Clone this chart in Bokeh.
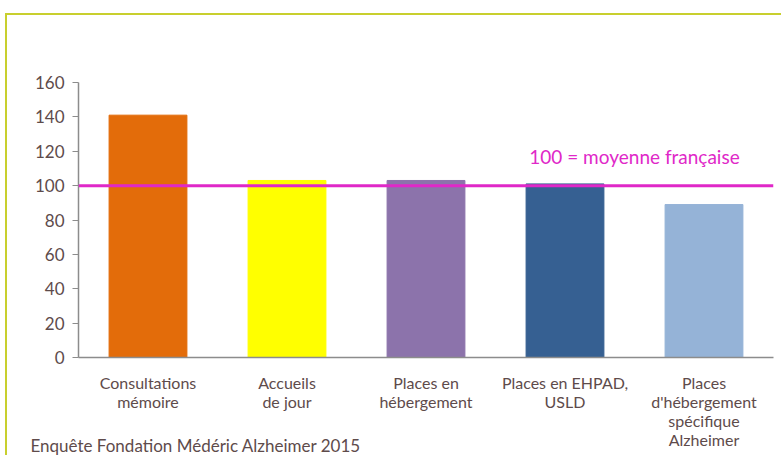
from bokeh.plotting import figure
from bokeh.models import Span, Label, FixedTicker, Range1d
from bokeh.embed import file_html
from bokeh.resources import INLINE

categories = ["Consultations\nmémoire", "Accueils\nde jour", "Places en\nhébergement",
              "Places en EHPAD,\nUSLD", "Places\nd'hébergement\nspécifique\nAlzheimer"]
values = [141, 103, 103, 101, 89]
colors = ["#e36c0a", "#ffff00", "#8c73ab", "#366092", "#95b3d7"]
y_ticks = [0, 20, 40, 60, 80, 100, 120, 140, 160]
reference = 100
reference_label = "100 = moyenne française"
source_note = "Enquête Fondation Médéric Alzheimer 2015"

TXT = "#5e4b4b"
FONT = "Lato"

p = figure(width=776, height=442, output_backend="svg", toolbar_location=None,
           x_range=Range1d(0, len(categories)), y_range=Range1d(0, 160),
           min_border_left=71, min_border_right=10, min_border_top=67, min_border_bottom=100,
           styles={"border-left": "2px solid #c8cf2e", "border-top": "2px solid #c8cf2e",
                   "margin-left": "5px", "margin-top": "13px"})
p.outline_line_color = None
p.grid.visible = False

xs = [i + 0.5 for i in range(len(categories))]
p.vbar(x=xs, top=values, width=0.56, color=colors)

p.xaxis.ticker = FixedTicker(ticks=xs)
p.xaxis.major_label_overrides = {x: c for x, c in zip(xs, categories)}
p.xaxis.major_tick_line_color = None
p.xaxis.minor_tick_line_color = None
p.xaxis.axis_line_color = "#8c8c8c"
p.xaxis.axis_line_width = 1.5
p.xaxis.major_label_standoff = 9
p.xaxis.major_label_text_font = FONT
p.xaxis.major_label_text_font_size = "16px"
p.xaxis.major_label_text_line_height = 1.0
p.xaxis.major_label_text_color = TXT

p.yaxis.ticker = FixedTicker(ticks=y_ticks)
p.yaxis.minor_tick_line_color = None
p.yaxis.axis_line_color = "#8c8c8c"
p.yaxis.axis_line_width = 1.5
p.yaxis.major_tick_line_color = "#8c8c8c"
p.yaxis.major_tick_out = 6
p.yaxis.major_tick_in = 0
p.yaxis.major_label_standoff = 8
p.yaxis.major_label_text_font = FONT
p.yaxis.major_label_text_font_size = "17px"
p.yaxis.major_label_text_color = TXT

p.add_layout(Span(location=reference, dimension="width", line_color="#e028c8", line_width=3))
p.add_layout(Label(x=4.0, y=reference, y_offset=18, text=reference_label, text_align="center",
                   text_baseline="bottom", text_font=FONT, text_font_size="19px",
                   text_color="#e028c8"))
p.add_layout(Label(x=0, y=0, x_offset=-48, y_offset=-88, text=source_note,
                   text_font=FONT, text_font_size="17px", text_color=TXT,
                   text_baseline="alphabetic"), "above")

open("out.html", "w").write(file_html(p, INLINE))
